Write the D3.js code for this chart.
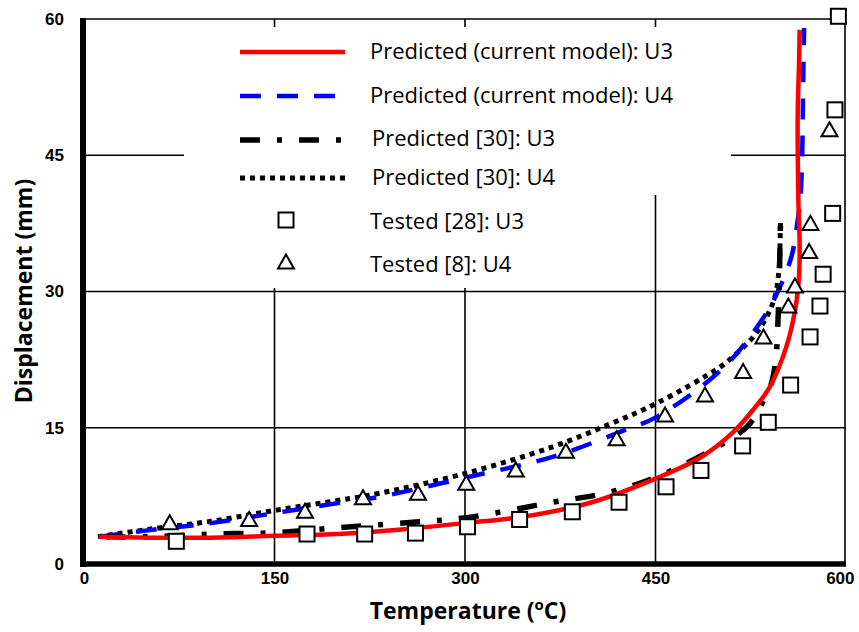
<!DOCTYPE html>
<html>
<head>
<meta charset="utf-8">
<script src="https://d3js.org/d3.v7.min.js"></script>
<style>
  body { margin: 0; background: #fff; }
  svg { display: block; font-family: "Open Sans", "DejaVu Sans", sans-serif; }
  .tick text { font-weight: bold; font-size: 17px; fill: #000; }
  .leg { font-size: 22px; fill: #000; }
  .title { font-weight: bold; font-size: 23px; fill: #000; }
</style>
</head>
<body>
<div id="chart"></div>
<script>
// ticks
var xTicks = [0, 150, 300, 450, 600];
var yTicks = [0, 15, 30, 45, 60];

// Predicted (current model): U3  [temperature, displacement]
var modelU3 = [[12,3.0],[50,2.9],[100,2.9],[150,3.1],[200,3.3],[250,3.8],[300,4.5],[350,5.3],[400,6.8],[450,9.4],[485,11.7],[511,14.5],[527,17],[540,19.5],[553,23.9],[560,28],[563,31.6],[563.5,35],[562.5,40],[562,45],[562,50],[563,55],[563.5,58.8]];
// Predicted (current model): U4
var modelU4 = [[12,3.0],[50,3.7],[100,4.5],[150,5.6],[200,6.7],[233,7.4],[300,9.5],[369,11.8],[427,14.8],[451,16.2],[502,21.4],[532,26.5],[545,29.6],[557,33.8],[562,37.9],[564,40],[565.5,45],[566,50],[566.5,55],[567,59]];
// Predicted [30]: U3
var ref30U3 = [[17,3.0],[50,3.0],[100,3.3],[150,3.45],[200,4.0],[249,4.5],[301,5.1],[369,6.8],[414,7.9],[451,9.6],[495,12.6],[522,15.1],[532,17.2],[541.5,20],[545,23],[546.5,27],[547.5,31],[548,35],[548.5,38]];
// Predicted [30]: U4
var ref30U4 = [[11,3.0],[50,3.8],[100,4.7],[150,5.9],[200,7.0],[233,7.8],[301,10.0],[369,12.9],[414,15.4],[451,17.7],[501,21.7],[514,23.2],[527,25],[537.5,27.2],[544,29.4],[547,32],[548,35],[548.5,38]];
// Tested [28]: U3
var test28U3 = [[72.7,2.5],[175.6,3.3],[221,3.3],[261,3.4],[302,4.1],[343,4.9],[384.5,5.75],[421.3,6.8],[458.3,8.5],[485.8,10.3],[518.6,13.0],[538.8,15.6],[556.4,19.7],[571.7,25.0],[579.5,28.4],[582,31.9],[589.5,38.6],[591.3,50],[594,60.3]];
// Tested [8]: U4
var test8U4 = [[67.5,4.55],[130,4.9],[174,5.8],[219.7,7.3],[263,7.8],[301,8.9],[340,10.35],[379.5,12.4],[419.4,13.8],[457.5,16.4],[489,18.6],[519,21.2],[535,25.0],[554.6,28.4],[559.8,30.6],[571,34.4],[572,37.5],[587,47.8]];

var legendNames = ["Predicted (current model): U3", "Predicted (current model): U4",
    "Predicted [30]: U3", "Predicted [30]: U4", "Tested [28]: U3", "Tested [8]: U4"];

var width = 859, height = 632;

var svg = d3.select("#chart").append("svg")
    .attr("width", width)
    .attr("height", height);

var x = d3.scaleLinear().domain([0, 600]).range([84, 846]);
var y = d3.scaleLinear().domain([0, 60]).range([564, 19]);

// grid lines
svg.selectAll(".vgrid")
    .data([150, 300, 450])
    .enter().append("line")
    .attr("x1", function(d) { return x(d); })
    .attr("x2", function(d) { return x(d); })
    .attr("y1", y(60))
    .attr("y2", y(0))
    .attr("stroke", "#000")
    .attr("stroke-width", 1.6);

svg.selectAll(".hgrid")
    .data([15, 30, 45])
    .enter().append("line")
    .attr("x1", x(0))
    .attr("x2", x(600))
    .attr("y1", function(d) { return y(d); })
    .attr("y2", function(d) { return y(d); })
    .attr("stroke", "#000")
    .attr("stroke-width", 1.6);

// legend backgrounds (they hide the grid like the text boxes of the original)
svg.append("rect").attr("x", 184).attr("y", 27).attr("width", 547).attr("height", 168).attr("fill", "#fff");
svg.append("rect").attr("x", 184).attr("y", 190).attr("width", 440).attr("height", 98).attr("fill", "#fff");

// frame
svg.append("line").attr("x1", x(0)).attr("x2", x(600)).attr("y1", y(60)).attr("y2", y(60))
    .attr("stroke", "#000").attr("stroke-width", 1.6);
svg.append("line").attr("x1", x(600) - 1).attr("x2", x(600) - 1).attr("y1", y(60)).attr("y2", y(0))
    .attr("stroke", "#000").attr("stroke-width", 1.6);

// data lines
var line = d3.line()
    .x(function(d) { return x(d[0]); })
    .y(function(d) { return y(d[1]); })
    .curve(d3.curveCatmullRom.alpha(0.5));

var series = [
    {data: ref30U4, color: "#000", w: 5, dash: "5,5"},
    {data: modelU4, color: "#0000ff", w: 4.5, dash: "21,16"},
    {data: ref30U3, color: "#000", w: 5.5, dash: "20,17,5,17"},
    {data: modelU3, color: "#ff0000", w: 4.5, dash: null}
];

svg.selectAll(".series")
    .data(series)
    .enter().append("path")
    .attr("class", "series")
    .attr("d", function(d) { return line(d.data); })
    .attr("fill", "none")
    .attr("stroke", function(d) { return d.color; })
    .attr("stroke-width", function(d) { return d.w; })
    .attr("stroke-dasharray", function(d) { return d.dash; });

// markers
var sq = 15;
svg.selectAll(".sq")
    .data(test28U3)
    .enter().append("rect")
    .attr("class", "sq")
    .attr("x", function(d) { return x(d[0]) - sq / 2; })
    .attr("y", function(d) { return y(d[1]) - sq / 2; })
    .attr("width", sq)
    .attr("height", sq)
    .attr("fill", "#fff")
    .attr("stroke", "#000")
    .attr("stroke-width", 2);

var tri = "M0,-7.5L8,6.5L-8,6.5Z";
svg.selectAll(".tri")
    .data(test8U4)
    .enter().append("path")
    .attr("class", "tri")
    .attr("transform", function(d) { return "translate(" + x(d[0]) + "," + y(d[1]) + ")"; })
    .attr("d", tri)
    .attr("fill", "#fff")
    .attr("stroke", "#000")
    .attr("stroke-width", 2);

// thick left and bottom axis lines
svg.append("line").attr("x1", x(0) - 1).attr("x2", x(0) - 1).attr("y1", y(60) - 1).attr("y2", y(0) + 3)
    .attr("stroke", "#000").attr("stroke-width", 6);
svg.append("line").attr("x1", x(0) - 4).attr("x2", x(600)).attr("y1", y(0)).attr("y2", y(0))
    .attr("stroke", "#000").attr("stroke-width", 5.5);

// axes (labels only)
var xAxis = svg.append("g")
    .attr("transform", "translate(0," + y(0) + ")")
    .call(d3.axisBottom(x).tickValues(xTicks).tickSize(0).tickPadding(8));
xAxis.select(".domain").remove();
xAxis.selectAll(".tick text")
    .filter(function(d) { return d == 600; })
    .attr("text-anchor", "end")
    .attr("x", 8);

var yAxis = svg.append("g")
    .attr("transform", "translate(" + x(0) + ",0)")
    .call(d3.axisLeft(y).tickValues(yTicks).tickSize(0).tickPadding(20));
yAxis.select(".domain").remove();

// axis titles
var xt = svg.append("text")
    .attr("class", "title")
    .attr("x", 468)
    .attr("y", 619)
    .attr("text-anchor", "middle");
xt.append("tspan").text("Temperature (");
xt.append("tspan").attr("font-size", "15px").attr("dy", -9).text("o");
xt.append("tspan").attr("dy", 9).text("C)");

svg.append("text")
    .attr("class", "title")
    .attr("font-size", "24px")
    .attr("transform", "translate(32,291) rotate(-90)")
    .attr("text-anchor", "middle")
    .text("Displacement (mm)");

// legend
var legRowY = [52, 96, 140, 178, 220, 262];
var legTextY = [59, 103, 146, 185, 229, 272];
var legTextX = [370, 370, 372, 372, 370, 370];

var lg = svg.append("g").attr("class", "legend");
// legend rows: model U3, model U4, [30] U3, [30] U4
var legSeries = [series[3], series[1], series[2], series[0]];
legSeries.forEach(function(s, i) {
    lg.append("line")
        .attr("x1", 240).attr("x2", i == 1 ? 337 : 345)
        .attr("y1", legRowY[i]).attr("y2", legRowY[i])
        .attr("stroke", s.color)
        .attr("stroke-width", s.w)
        .attr("stroke-dasharray", s.dash);
});
lg.append("rect")
    .attr("x", 286 - sq / 2).attr("y", legRowY[4] - sq / 2)
    .attr("width", sq).attr("height", sq)
    .attr("fill", "#fff").attr("stroke", "#000").attr("stroke-width", 2);
lg.append("path")
    .attr("transform", "translate(286," + legRowY[5] + ")")
    .attr("d", tri)
    .attr("fill", "#fff").attr("stroke", "#000").attr("stroke-width", 2);

lg.selectAll(".leg")
    .data(legendNames)
    .enter().append("text")
    .attr("class", "leg")
    .attr("x", function(d, i) { return legTextX[i]; })
    .attr("y", function(d, i) { return legTextY[i]; })
    .text(function(d) { return d; });
</script>
</body>
</html>
